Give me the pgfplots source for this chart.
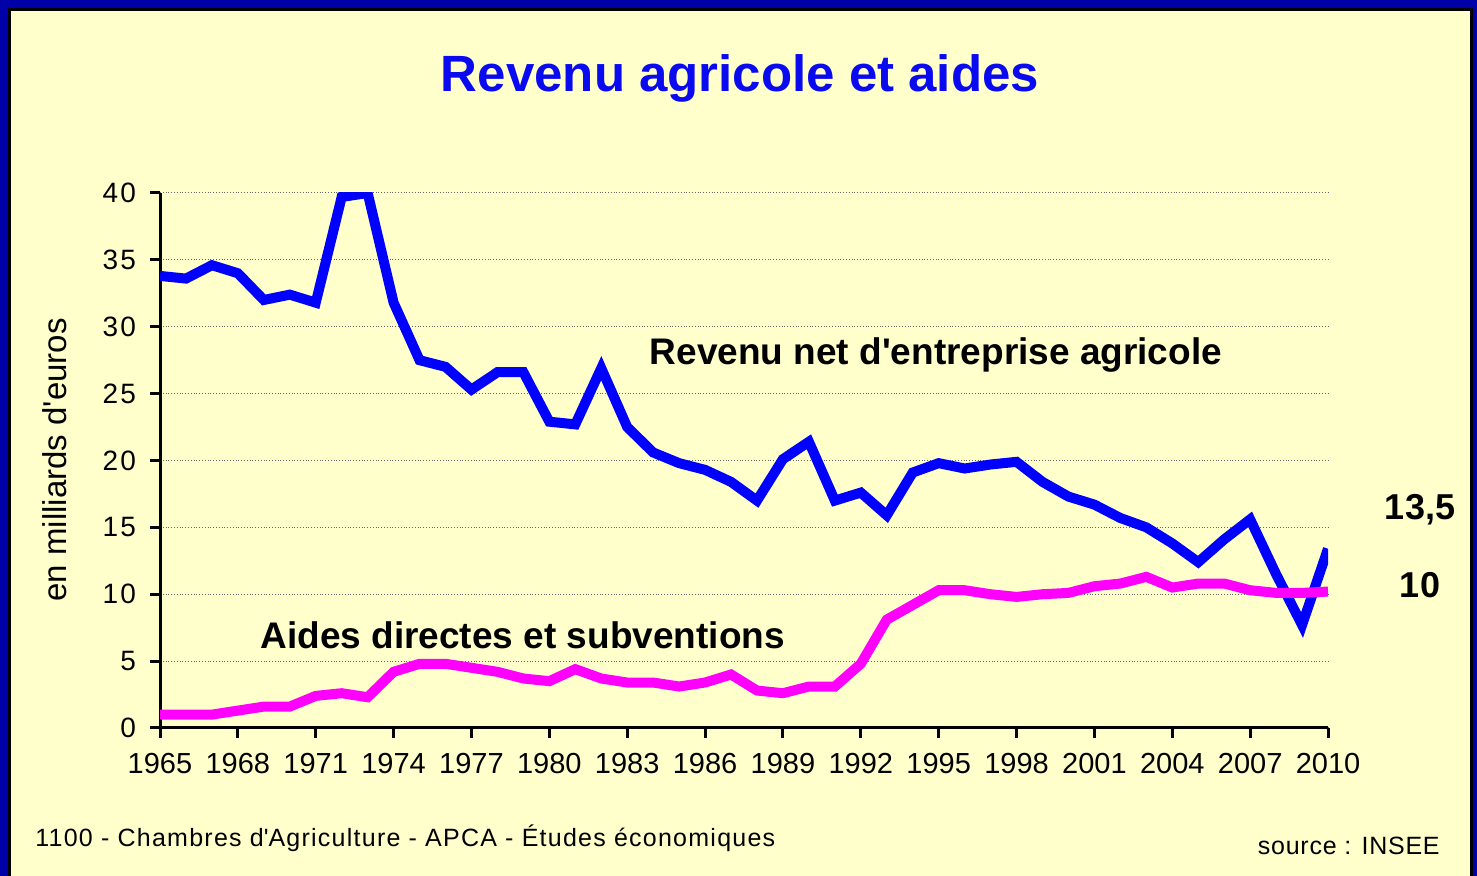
\documentclass[border=0pt]{standalone}
\usepackage{fontspec}
\setmainfont{Liberation Sans}
\usepackage{pgfplots}
\usepackage{pgfplotstable}
\pgfplotsset{compat=1.18}
\definecolor{bgyellow}{HTML}{FFFFCC}
\definecolor{frameblue}{HTML}{0000A8}
\definecolor{lineblue}{HTML}{0000FF}
\definecolor{linepink}{HTML}{FF00FF}
\definecolor{titleblue}{HTML}{0A0AF0}

\pgfplotstableread{
year revenu
1965 33.8
1966 33.6
1967 34.6
1968 34.0
1969 32.0
1970 32.4
1971 31.8
1972 39.7
1973 40.0
1974 31.8
1975 27.5
1976 27.0
1977 25.3
1978 26.6
1979 26.6
1980 22.9
1981 22.7
1982 26.9
1983 22.5
1984 20.6
1985 19.8
1986 19.3
1987 18.4
1988 17.0
1989 20.1
1990 21.4
1991 17.0
1992 17.6
1993 15.9
1994 19.1
1995 19.8
1996 19.4
1997 19.7
1998 19.9
1999 18.4
2000 17.3
2001 16.7
2002 15.7
2003 15.0
2004 13.8
2005 12.4
2006 14.1
2007 15.6
2008 11.5
2009 7.7
2010 13.4
}\revenu

\pgfplotstableread{
year aides
1965 1.0
1966 1.0
1967 1.0
1968 1.3
1969 1.6
1970 1.6
1971 2.4
1972 2.6
1973 2.3
1974 4.2
1975 4.8
1976 4.8
1977 4.5
1978 4.2
1979 3.7
1980 3.5
1981 4.4
1982 3.7
1983 3.4
1984 3.4
1985 3.1
1986 3.4
1987 4.0
1988 2.8
1989 2.6
1990 3.1
1991 3.1
1992 4.8
1993 8.1
1994 9.2
1995 10.3
1996 10.3
1997 10.0
1998 9.8
1999 10.0
2000 10.1
2001 10.6
2002 10.8
2003 11.3
2004 10.5
2005 10.8
2006 10.8
2007 10.3
2008 10.1
2009 10.1
2010 10.2
}\aides

\begin{document}
\begin{tikzpicture}[x=1pt,y=1pt]
\path[use as bounding box] (0pt,0pt) rectangle (738.5pt,438pt);
\begin{scope}
\clip (0pt,0pt) rectangle (738.5pt,438pt);
\fill[frameblue] (0pt,0pt) rectangle (738.5pt,438pt);
\filldraw[fill=bgyellow, draw=black, line width=1.5pt] (4.75pt,-5pt) rectangle (735.75pt,433.25pt);
\end{scope}

\node[font=\fontsize{25.5}{28}\selectfont\bfseries, text=titleblue] at (370pt,399pt) {Revenu agricole et aides};

\begin{axis}[
  at={(80pt,74pt)}, anchor=south west,
  scale only axis, width=584pt, height=267.5pt,
  xmin=1965, xmax=2010, ymin=0, ymax=40,
  axis x line=bottom, axis y line=left,
  axis line style={-, line width=1.5pt, black},
  xtick={1965,1968,...,2010}, ytick={0,5,...,40},
  tick align=outside, major tick length=5pt,
  every tick/.style={black, line width=1.5pt},
  ymajorgrids, grid style={densely dotted, black!60, line width=0.5pt},
  /pgf/number format/assume math mode=true,
  xticklabel style={/pgf/number format/1000 sep=, font=\fontsize{14.5}{16}\selectfont, yshift=-4pt},
  yticklabel style={font=\fontsize{14}{16}\selectfont\addfontfeature{LetterSpace=8}, xshift=-3.5pt},
]
\addplot[lineblue, line width=5pt] table[x=year, y=revenu] {\revenu};
\addplot[linepink, line width=5pt] table[x=year, y=aides] {\aides};
\node[anchor=west, font=\fontsize{18.5}{20}\selectfont\bfseries] at (axis cs:1983.6,27.9) {Revenu net d\textquotesingle entreprise agricole};
\node[anchor=west, font=\fontsize{18.5}{20}\selectfont\bfseries] at (axis cs:1968.6,6.9) {Aides directes et subventions};
\end{axis}

\node[rotate=90, font=\fontsize{16.5}{18}\selectfont] at (27.5pt,208pt) {en milliards d\textquotesingle euros};
\node[font=\fontsize{18}{20}\selectfont\bfseries] at (710pt,183pt) {13,5};
\node[font=\fontsize{18}{20}\selectfont\bfseries] at (710pt,145.5pt) {10};
\node[anchor=west, inner sep=0pt, font=\fontsize{12.5}{14}\selectfont\addfontfeature{LetterSpace=5}] at (17.5pt,19pt) {1100 - Chambres d\textquotesingle Agriculture - APCA - Études économiques};
\node[anchor=east, inner sep=0pt, font=\fontsize{12.5}{14}\selectfont\addfontfeature{LetterSpace=3}] at (720pt,15pt) {source : INSEE};
\end{tikzpicture}
\end{document}
